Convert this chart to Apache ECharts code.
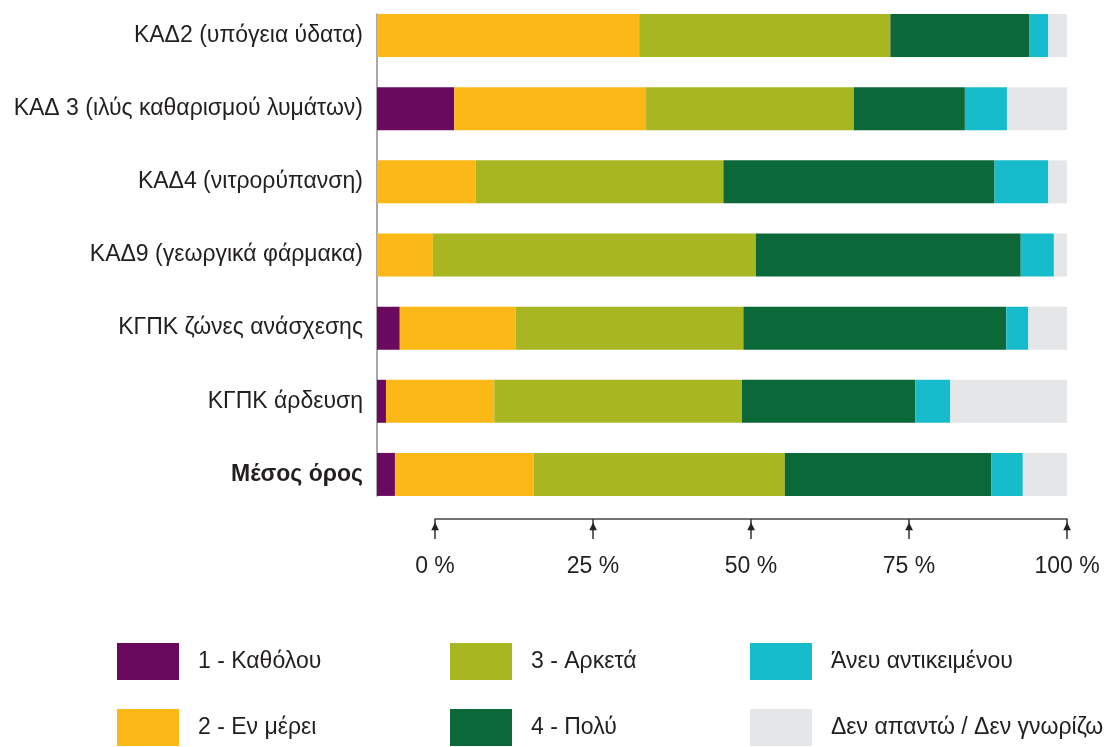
<!DOCTYPE html>
<html>
<head>
<meta charset="utf-8">
<script src="https://cdn.jsdelivr.net/npm/echarts@6/dist/echarts.min.js"></script>
<style>
  html,body{margin:0;padding:0;background:#fff;}
  #main{width:1105px;height:747px;}
</style>
</head>
<body>
<div id="main"></div>
<script>
// κατηγορίες (από πάνω προς τα κάτω)
var categories = ['ΚΑΔ2 (υπόγεια ύδατα)', 'ΚΑΔ 3 (ιλύς καθαρισμού λυμάτων)', 'ΚΑΔ4 (νιτρορύπανση)',
    'ΚΑΔ9 (γεωργικά φάρμακα)', 'ΚΓΠΚ ζώνες ανάσχεσης', 'ΚΓΠΚ άρδευση', 'Μέσος όρος'];
var seriesNames = ['1 - Καθόλου', '2 - Εν μέρει', '3 - Αρκετά', '4 - Πολύ', 'Άνευ αντικειμένου', 'Δεν απαντώ / Δεν γνωρίζω'];
var colors = ['#690a5e', '#fbb817', '#a8b621', '#0b6939', '#16bccc', '#e5e6e8'];

// ποσοστά %
var katholou  = [0,    11.2, 0,    0,    3.3,  1.3,  2.6];
var enMerei   = [38.0, 27.8, 14.3, 8.1,  16.8, 15.7, 20.1];
var arketa    = [36.4, 30.1, 35.9, 46.8, 33.0, 35.9, 36.4];
var poly      = [20.1, 16.1, 39.3, 38.4, 38.1, 25.1, 29.9];
var aneu      = [2.8,  6.1,  7.8,  4.8,  3.2,  5.1,  4.6];
var denKsero  = [2.7,  8.7,  2.7,  1.9,  5.6,  16.9, 6.4];
var tickValues = [0, 25, 50, 75, 100];

var values = [katholou, enMerei, arketa, poly, aneu, denKsero];
var font = '"Liberation Sans Narrow", "Liberation Sans", sans-serif';
var fontSize = 23;
var textColor = '#231f20';

var myChart = echarts.init(document.getElementById('main'));

var series = [];
for (var i = 0; i < seriesNames.length; i++) {
    series.push({
        name: seriesNames[i],
        type: 'bar',
        stack: 'all',
        barWidth: 43,
        xAxisIndex: 0,
        yAxisIndex: 0,
        itemStyle: {color: colors[i]},
        data: values[i]
    });
}

var catData = [];
for (var j = 0; j < categories.length; j++) {
    if (j == categories.length - 1) {
        catData.push({value: categories[j], textStyle: {fontWeight: 'bold'}});
    } else {
        catData.push(categories[j]);
    }
}

function legendFor(names, left) {
    return {
        data: names,
        orient: 'vertical',
        left: left,
        top: 643,
        padding: 0,
        itemWidth: 62,
        itemHeight: 37,
        itemGap: 29,
        icon: 'rect',
        textStyle: {fontFamily: font, fontSize: fontSize, color: textColor, padding: [0, 0, 0, 14]},
        selectedMode: false
    };
}

myChart.setOption({
    animation: false,
    legend: [
        legendFor([seriesNames[0], seriesNames[1]], 117),
        legendFor([seriesNames[2], seriesNames[3]], 450),
        legendFor([seriesNames[4], seriesNames[5]], 750)
    ],
    grid: [
        {left: 377, width: 690, top: -1, height: 512, outerBoundsMode: 'none'},  // ράβδοι
        {left: 377, width: 690, top: 14, height: 482, outerBoundsMode: 'none'},  // κάθετη γραμμή άξονα
        {left: 435, width: 632, top: 519, height: 30, outerBoundsMode: 'none'}   // κλίμακα με βέλη
    ],
    xAxis: [
        {type: 'value', gridIndex: 0, min: 0, max: 100, show: false},
        {type: 'value', gridIndex: 1, min: 0, max: 100, show: false},
        {
            type: 'value', gridIndex: 2, position: 'top', min: 0, max: 100, interval: 25,
            axisLine: {show: true, onZero: false, lineStyle: {color: '#444', width: 1.5}},
            axisTick: {show: true, inside: true, length: 20, lineStyle: {color: '#333', width: 1.5}},
            splitLine: {show: false},
            axisLabel: {
                inside: true,
                margin: 1,
                formatter: function (v) {
                    return '{a|▲}\n{b|' + v + ' %}';
                },
                rich: {
                    a: {fontFamily: 'DejaVu Sans', fontSize: 10, lineHeight: 12, color: '#222'},
                    b: {fontFamily: font, fontSize: fontSize, lineHeight: 70, color: textColor}
                }
            }
        }
    ],
    yAxis: [
        {
            type: 'category', gridIndex: 0, inverse: true, data: catData,
            axisLine: {show: false}, axisTick: {show: false},
            axisLabel: {fontFamily: font, fontSize: fontSize, color: textColor, margin: 14}
        },
        {
            type: 'value', gridIndex: 1, min: 0, max: 1,
            axisLine: {show: true, lineStyle: {color: '#8c8c8c', width: 1.5}},
            axisTick: {show: false}, axisLabel: {show: false}, splitLine: {show: false}
        },
        {type: 'value', gridIndex: 2, show: false}
    ],
    series: series
});
</script>
</body>
</html>
